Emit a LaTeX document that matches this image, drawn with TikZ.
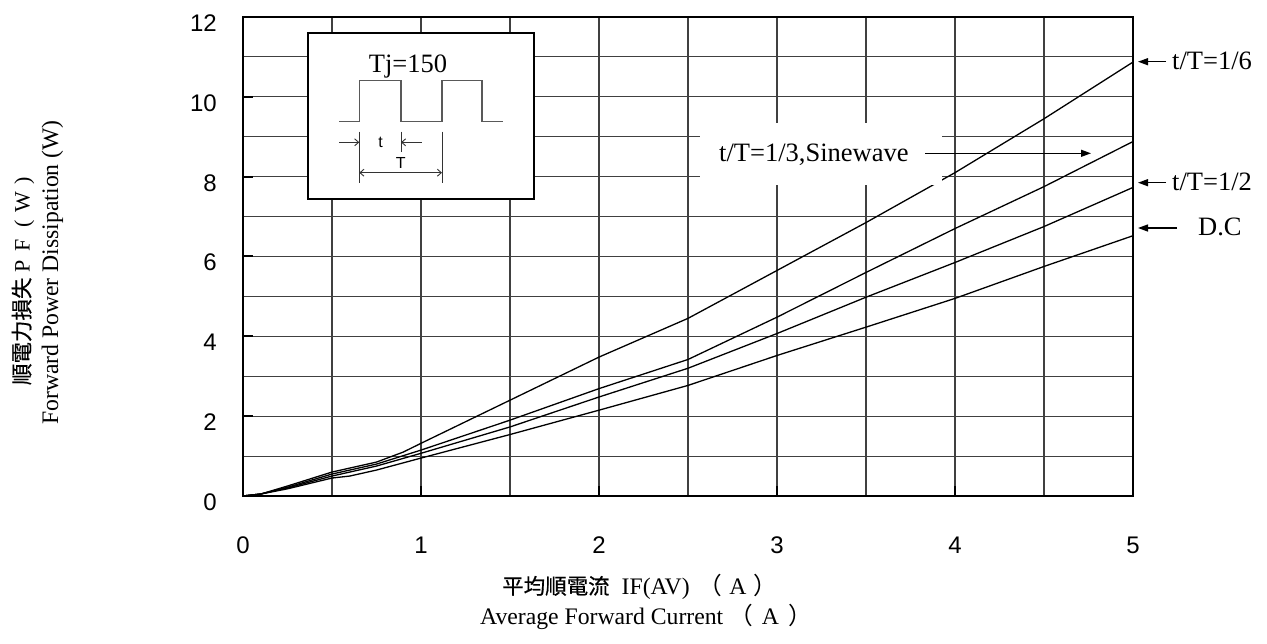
\documentclass[tikz,border=0pt]{standalone}
\usepackage{fontspec}
\setmainfont{Liberation Serif}
\newfontfamily\cjk[FakeBold=0.6]{Noto Sans CJK TC}
\newfontfamily\cjkp{Noto Sans CJK TC}
\newfontfamily\arial{Liberation Sans}
\usetikzlibrary{arrows.meta}
\newcommand{\fwbox}[1]{\makebox[21.5pt]{#1}}
\begin{document}
\begin{tikzpicture}[x=1pt,y=-1pt,
  gridline/.style={draw=black!75, line width=1.1pt},
  frameline/.style={draw=black, line width=2pt},
  curve/.style={draw=black, line width=1.3pt, line join=round},
  tickmark/.style={draw=black, line width=2pt},
  ticklab/.style={font=\arial\fontsize{24}{28}\selectfont, inner sep=0pt},
  lab/.style={font=\fontsize{26.5}{30}\selectfont, inner sep=0pt},
  ttl/.style={font=\fontsize{23.7}{28}\selectfont, inner sep=0pt},
  arr/.style={draw=black, line width=1.3pt, -{Triangle[length=10pt,width=7pt]}},
  wave/.style={draw=black!65, line width=1.1pt},
  dim/.style={draw=black!80, line width=0.9pt},
  dimarr/.style={dim, -{Straight Barb[length=4pt,width=7pt]}},
]
\useasboundingbox (0,0) rectangle (1267,643);
\begin{scope}[shift={(243,496)}, x=178pt, y=39.92pt]
  \foreach \i in {0.5,1,...,4.5} \draw[gridline] (\i,0) -- (\i,12);
  \foreach \j in {1,...,11} \draw[gridline] (0,\j) -- (5,\j);
  \foreach \i in {1,...,4} \draw[tickmark] (\i,0) -- ++(0pt,10pt);
  \foreach \j in {2,4,...,10} \draw[tickmark] (0,\j) -- ++(10pt,0pt);
  \draw[frameline] (0,0) rectangle (5,12);
  % curves
  \draw[curve] plot coordinates {(0,0) (0.1,0.05) (0.25,0.25) (0.5,0.6) (0.6,0.7) (0.75,0.85) (0.9,1.1) (1,1.32) (1.5,2.4) (2,3.48) (2.5,4.45) (3,5.65) (3.5,6.85) (4,8.1) (4.5,9.45) (5,10.87)};
  \draw[curve] plot coordinates {(0,0) (0.1,0.05) (0.25,0.22) (0.5,0.55) (0.6,0.65) (0.75,0.8) (1,1.15) (1.5,1.9) (2,2.69) (2.5,3.42) (3,4.48) (3.5,5.6) (4,6.7) (4.5,7.75) (5,8.88)};
  \draw[curve] plot coordinates {(0,0) (0.1,0.05) (0.25,0.2) (0.5,0.5) (0.6,0.6) (0.75,0.75) (1,1.07) (1.5,1.73) (2,2.48) (2.5,3.2) (3,4.07) (3.5,4.98) (4,5.85) (4.5,6.75) (5,7.73)};
  \draw[curve] plot coordinates {(0,0) (0.1,0.05) (0.25,0.18) (0.5,0.45) (0.6,0.5) (0.75,0.65) (1,0.95) (1.5,1.54) (2,2.15) (2.5,2.77) (3,3.52) (3.5,4.23) (4,4.95) (4.5,5.75) (5,6.52)};
\end{scope}
% tick labels
\foreach \v [count=\k from 0] in {0,2,4,6,8,10,12}
  \node[ticklab, anchor=base east] (ty\k) at (217,{496-79.84*\k+14.5}) {\v};
\foreach \v in {0,1,2,3,4,5}
  \node[ticklab, anchor=base] (tx\v) at ({243+178*\v},553) {\v};
% white label box and labels
\fill[white] (700,123) rectangle (942,185);
\node[lab, anchor=base west] (l3) at (719,161) {t/T=1/3,Sinewave};
\coordinate (a3s) at (925,153.3);
\coordinate (a3e) at (1091,153.3);
\draw[arr] (a3s) -- (a3e);
\node[lab, anchor=base west] (l6) at (1172,69) {t/T=1/6};
\coordinate (a6s) at (1166,61.7);
\coordinate (a6e) at (1138,61.7);
\draw[arr] (a6s) -- (a6e);
\node[lab, anchor=base west] (l2) at (1172,190) {t/T=1/2};
\coordinate (a2s) at (1166,182.7);
\coordinate (a2e) at (1138,182.7);
\draw[arr] (a2s) -- (a2e);
\node[lab, anchor=base west] (ldc) at (1198,235) {D.C};
\coordinate (adcs) at (1177,228);
\coordinate (adce) at (1138,228);
\draw[arr] (adcs) -- (adce);
% inset
\draw[frameline, fill=white] (308,33) rectangle (534,199);
\node[lab, anchor=base] (tj) at (408,72) {Tj=150};
\draw[wave] (339,121.7) -- (359.3,121.7) -- (359.3,80.7) -- (401,80.7) -- (401,121.7) -- (442,121.7) -- (442,80.7) -- (482,80.7) -- (482,121.7) -- (503,121.7);
\draw[dim] (359.3,131.7) -- (359.3,183.3);
\draw[dim] (442,131.7) -- (442,183.3);
\draw[dim] (401,131.7) -- (401,151.7);
\draw[dimarr] (339,142.3) -- (359.3,142.3);
\draw[dimarr] (421.7,142.3) -- (401,142.3);
\draw[dim, {Straight Barb[length=4pt,width=7pt]}-{Straight Barb[length=4pt,width=7pt]}] (359.3,172.7) -- (442,172.7);
\node[font=\arial\fontsize{16}{18}\selectfont, inner sep=0pt] (tt) at (380.7,142.7) {t};
\node[font=\arial\fontsize{16}{18}\selectfont, inner sep=0pt] (tT) at (400.7,163.3) {T};
% axis titles
\node[rotate=90, inner sep=0pt] (yt1) at (23,277.5) {{\cjk\fontsize{21.5}{24}\selectfont 順電力損失}{\fontsize{22}{26}\selectfont\fwbox{P}\fwbox{F}\fwbox{(}\fwbox{W}\fwbox{)}}};
\node[ttl, rotate=90] (yt2) at (52.5,272.5) {Forward Power Dissipation (W)};
\node[ttl, anchor=base west] (xt1) at (502,594) {{\cjk\fontsize{21.5}{24}\selectfont 平均順電流}\hspace{12pt}IF(AV)\hspace{9pt}{\cjkp （}\hspace{7pt}A\hspace{7pt}{\cjkp ）}};
\node[ttl, anchor=base west] (xt2) at (480,624) {Average Forward Current\hspace{6pt}{\cjkp （}\hspace{9pt}A\hspace{9pt}{\cjkp ）}};
\end{tikzpicture}
\end{document}
